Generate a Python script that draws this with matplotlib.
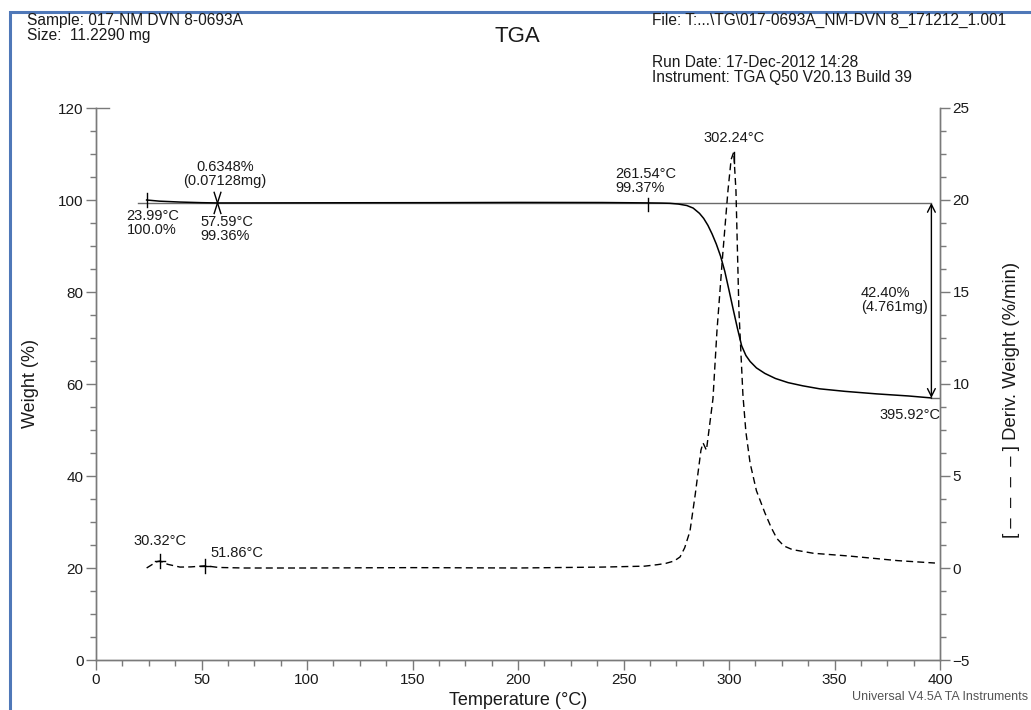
import matplotlib
matplotlib.use("Agg")
import matplotlib.pyplot as plt
from matplotlib.ticker import MultipleLocator
from matplotlib.patches import Rectangle

plt.rcParams['font.family'] = ['Liberation Sans', 'DejaVu Sans']

# ---------------- data ----------------
wt_temp = [23.99, 30, 40, 50, 57.59, 80, 120, 160, 200, 240, 261.54, 268, 272,
           276, 280, 283, 286, 288, 290, 292, 294, 296, 298, 300, 302, 304,
           306, 308, 310, 313, 317, 322, 328, 335, 343, 355, 370, 385, 395.92]
wt_val = [100.0, 99.75, 99.55, 99.42, 99.36, 99.37, 99.4, 99.42, 99.47, 99.45,
          99.37, 99.33, 99.28, 99.12, 98.8, 98.25, 97.1, 96.0, 94.5, 92.6,
          90.4, 87.8, 84.5, 80.4, 76.2, 72.1, 68.3, 66.2, 64.9, 63.5, 62.3,
          61.2, 60.3, 59.6, 58.95, 58.4, 57.85, 57.4, 56.97]

dtg_temp = [24.0, 28.7, 30.3, 34, 39.8, 45, 51.9, 58, 70, 100, 150, 200, 240,
            260, 266, 270, 274, 276.8, 279, 281.5, 284, 286.7, 287.7, 289.3,
            292.4, 294.3, 297, 299.5, 301, 302.24, 303.3, 304.7, 306.6, 308,
            310, 313, 317, 320, 322.7, 326, 330, 340, 357, 380, 397.6]
dtg_val = [0.0, 0.34, 0.38, 0.2, 0.05, 0.06, 0.12, 0.03, 0.0, 0.0, 0.02, 0.0,
           0.05, 0.1, 0.18, 0.25, 0.38, 0.6, 1.1, 2.0, 4.0, 6.4, 6.8, 6.4, 9.2,
           12.9, 17.0, 20.5, 22.2, 22.6, 20.5, 14.0, 9.4, 7.4, 5.7, 4.2, 3.0,
           2.2, 1.6, 1.2, 1.0, 0.8, 0.65, 0.4, 0.27]

x_ticks = [0, 50, 100, 150, 200, 250, 300, 350, 400]
y_ticks = [0, 20, 40, 60, 80, 100, 120]
y2_ticks = [-5, 0, 5, 10, 15, 20, 25]

# annotation values
start_T, start_W = 23.99, 100.0
end1_T, end1_W = 57.59, 99.36
onset_T, onset_W = 261.54, 99.37
final_T, final_W = 395.92, 56.97
peak_T, peak_D = 302.24, 22.6
small1_T, small1_D = 30.32, 0.38
small2_T, small2_D = 51.86, 0.12

# ---------------- figure ----------------
fig = plt.figure(figsize=(10.31, 7.10), dpi=100)
W, H = 1031, 710
ax = fig.add_axes([96 / W, 1 - 660 / H, (940 - 96) / W, (660 - 108) / H])
ax2 = ax.twinx()

spine_c = '#7a7a7a'
txt_c = '#1a1a1a'

for a in (ax, ax2):
    a.set_xlim(0, 400)
    a.spines['top'].set_visible(False)
    for s in ('left', 'right', 'bottom'):
        a.spines[s].set_color(spine_c)
        a.spines[s].set_linewidth(1.0)
    a.patch.set_alpha(0)

ax.set_ylim(0, 120)
ax2.set_ylim(-5, 25)
ax.set_xticks(x_ticks)
ax.set_yticks(y_ticks)
ax2.set_yticks(y2_ticks)
ax.xaxis.set_minor_locator(MultipleLocator(12.5))
ax.yaxis.set_minor_locator(MultipleLocator(5))
ax2.yaxis.set_minor_locator(MultipleLocator(1.25))

ax.tick_params(axis='both', which='major', length=7, width=1, color=spine_c,
               labelsize=11, labelcolor=txt_c, pad=2)
ax.tick_params(axis='both', which='minor', length=4, width=1, color=spine_c)
ax2.tick_params(axis='y', which='major', length=7, width=1, color=spine_c,
                labelsize=11, labelcolor=txt_c, pad=2)
ax2.tick_params(axis='y', which='minor', length=4, width=1, color=spine_c)

ax.set_xlabel('Temperature (°C)', fontsize=13, color=txt_c, labelpad=4)
ax.set_ylabel('Weight (%)', fontsize=13, color=txt_c, labelpad=14)
ax2.set_ylabel('[ –  –  –  – ] Deriv. Weight (%/min)', fontsize=13.3,
               color=txt_c)
ax2.yaxis.set_label_coords(1.075, 0.472)

# short segment at the 120 tick
ax.plot([0, 6], [120, 120], color=spine_c, lw=1, clip_on=False)

# baseline line at onset weight
ax.plot([20, final_T], [onset_W, onset_W], color='#6a6a6a', lw=1.0)
ax.plot([final_T, 400], [final_W, final_W], color='#6a6a6a', lw=1.0)

# curves
ax.plot(wt_temp, wt_val, color='black', lw=1.1)
ax2.plot(dtg_temp, dtg_val, color='black', lw=1.0, linestyle=(0, (5, 3)))

# markers on weight curve
ax.plot([start_T, start_T], [start_W - 1.5, start_W + 1.5], color='black', lw=1)
ax.plot([end1_T - 1.6, end1_T + 1.6], [end1_W + 2.3, end1_W - 2.3], color='black', lw=1)
ax.plot([end1_T + 1.6, end1_T - 1.6], [end1_W + 2.3, end1_W - 2.3], color='black', lw=1)
ax.plot([onset_T, onset_T], [onset_W - 1.7, onset_W + 1.0], color='black', lw=1)

# peak tick and small plus marks on DTG
ax2.plot([peak_T, peak_T], [peak_D - 0.6, peak_D + 0.0], color='black', lw=1)
for tx, dy in ((small1_T, small1_D), (small2_T, small2_D)):
    ax2.plot([tx - 2.4, tx + 2.4], [dy, dy], color='black', lw=1)
    ax2.plot([tx, tx], [dy - 0.38, dy + 0.38], color='black', lw=1)

# double arrow for weight loss
ax.annotate('', xy=(final_T, final_W), xytext=(final_T, onset_W),
            arrowprops=dict(arrowstyle='<->', color='black', lw=1,
                            shrinkA=0, shrinkB=0, mutation_scale=14))

fs = 10.5
ax.text(61, 102.6, '0.6348%\n(0.07128mg)',
        ha='center', va='bottom', fontsize=fs, color=txt_c, linespacing=1.0)
ax.text(14.5, 98.0, f'{start_T:.2f}°C\n{start_W:.1f}%', ha='left', va='top',
        fontsize=fs, color=txt_c, linespacing=1.0)
ax.text(49.3, 96.8, f'{end1_T:.2f}°C\n{end1_W:.2f}%', ha='left', va='top',
        fontsize=fs, color=txt_c, linespacing=1.0)
ax.text(246.3, 101.1, f'{onset_T:.2f}°C\n{onset_W:.2f}%', ha='left', va='bottom',
        fontsize=fs, color=txt_c, linespacing=1.0)
ax2.text(peak_T, 23.0, f'{peak_T:.2f}°C', ha='center', va='bottom',
         fontsize=fs, color=txt_c)
ax.text(362.4, 81.2, '42.40%\n(4.761mg)', ha='left', va='top',
        fontsize=fs, color=txt_c, linespacing=1.0)
ax.text(400, 53.3, f'{final_T:.2f}°C', ha='right', va='center',
        fontsize=fs, color=txt_c)
ax2.text(small1_T, 1.1, f'{small1_T:.2f}°C', ha='center', va='bottom',
         fontsize=fs, color=txt_c)
ax2.text(small2_T + 2.5, 0.45, f'{small2_T:.2f}°C', ha='left', va='bottom',
         fontsize=fs, color=txt_c)

# header texts
hfs = 11.2
fig.text(27 / W, 1 - 13 / H, 'Sample: 017-NM DVN 8-0693A', ha='left', va='top',
         fontsize=hfs, color=txt_c)
fig.text(27 / W, 1 - 28 / H, 'Size:  11.2290 mg', ha='left', va='top',
         fontsize=hfs, color=txt_c)
fig.text(517 / W, 1 - 26 / H, 'TGA', ha='center', va='top', fontsize=16,
         color=txt_c)
fig.text(652 / W, 1 - 13 / H, 'File: T:...\\TG\\017-0693A_NM-DVN 8_171212_1.001',
         ha='left', va='top', fontsize=hfs, color=txt_c)
fig.text(652 / W, 1 - 55 / H, 'Run Date: 17-Dec-2012 14:28', ha='left', va='top',
         fontsize=hfs, color=txt_c)
fig.text(652 / W, 1 - 70 / H, 'Instrument: TGA Q50 V20.13 Build 39', ha='left',
         va='top', fontsize=hfs, color=txt_c)
fig.text(1028 / W, 1 - 703 / H, 'Universal V4.5A TA Instruments', ha='right',
         va='bottom', fontsize=9, color='#555555')

# blue frame
fig.patches.append(Rectangle((10 / W, -0.05), 1.1, 1 - 12 / H + 0.05,
                             transform=fig.transFigure, fill=False,
                             edgecolor='#4f78b8', lw=2.2))

fig.savefig('out.png', dpi=100)
